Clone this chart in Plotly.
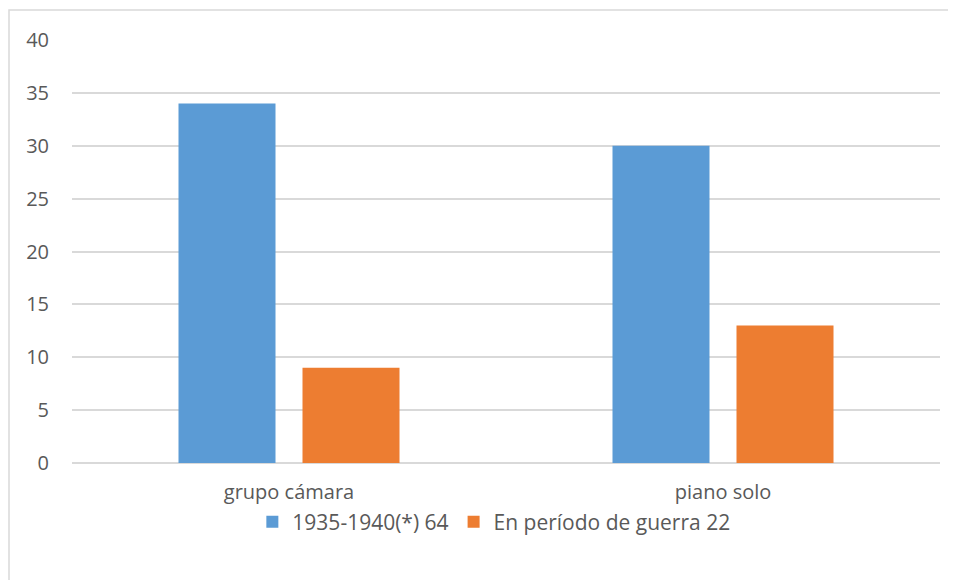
import plotly.graph_objects as go

categorias = ['grupo cámara', 'piano solo']
serie_1935 = [34, 30]
serie_guerra = [9, 13]
nombres = ['1935-1940(*) 64', 'En período de guerra 22']
colores = ['#5b9bd5', '#ed7d31']

fig = go.Figure()
for nombre, valores, color in zip(nombres, [serie_1935, serie_guerra], colores):
    fig.add_trace(go.Bar(
        name=nombre,
        x=categorias,
        y=valores,
        marker_color=color,
        marker_line_width=0,
    ))

# la página añade 8px de margen, así que la figura es algo menor
W, H = 948, 572
ml, mr, mt, mb = 64, 16, 32, 117
pw, ph = W - ml - mr, H - mt - mb

# Borde exterior del gráfico (estilo Excel)
fig.add_shape(
    type='rect', xref='paper', yref='paper',
    x0=(1 - ml) / pw, x1=(W + 5 - ml) / pw,
    y0=-(mb + 5) / ph, y1=(ph + mt - 2) / ph,
    line=dict(color='#d9d9d9', width=1.5), layer='below'
)

fig.update_layout(
    width=W, height=H,
    margin=dict(l=ml, r=mr, t=mt, b=mb),
    paper_bgcolor='white',
    plot_bgcolor='white',
    barmode='group',
    bargap=0.4286,
    bargroupgap=0.2177,
    font=dict(family='Open Sans', size=20, color='#595959'),
    legend=dict(
        orientation='h', x=0.486, xanchor='center', y=-0.091, yanchor='top',
        bgcolor='rgba(0,0,0,0)',
        font=dict(size=21, color='#595959'), itemwidth=30, traceorder='normal'
    ),
    showlegend=True,
)
fig.update_xaxes(showgrid=False, showline=False, ticks='', ticklabelstandoff=15,
                 tickfont=dict(size=20))
fig.update_yaxes(
    range=[0, 40], dtick=5, showgrid=True, gridcolor='#d9d9d9', gridwidth=1.5,
    zeroline=True, zerolinecolor='#d9d9d9', zerolinewidth=1.5,
    ticks='', ticklabelstandoff=22, tickfont=dict(size=20)
)

fig.write_html('out.html')
